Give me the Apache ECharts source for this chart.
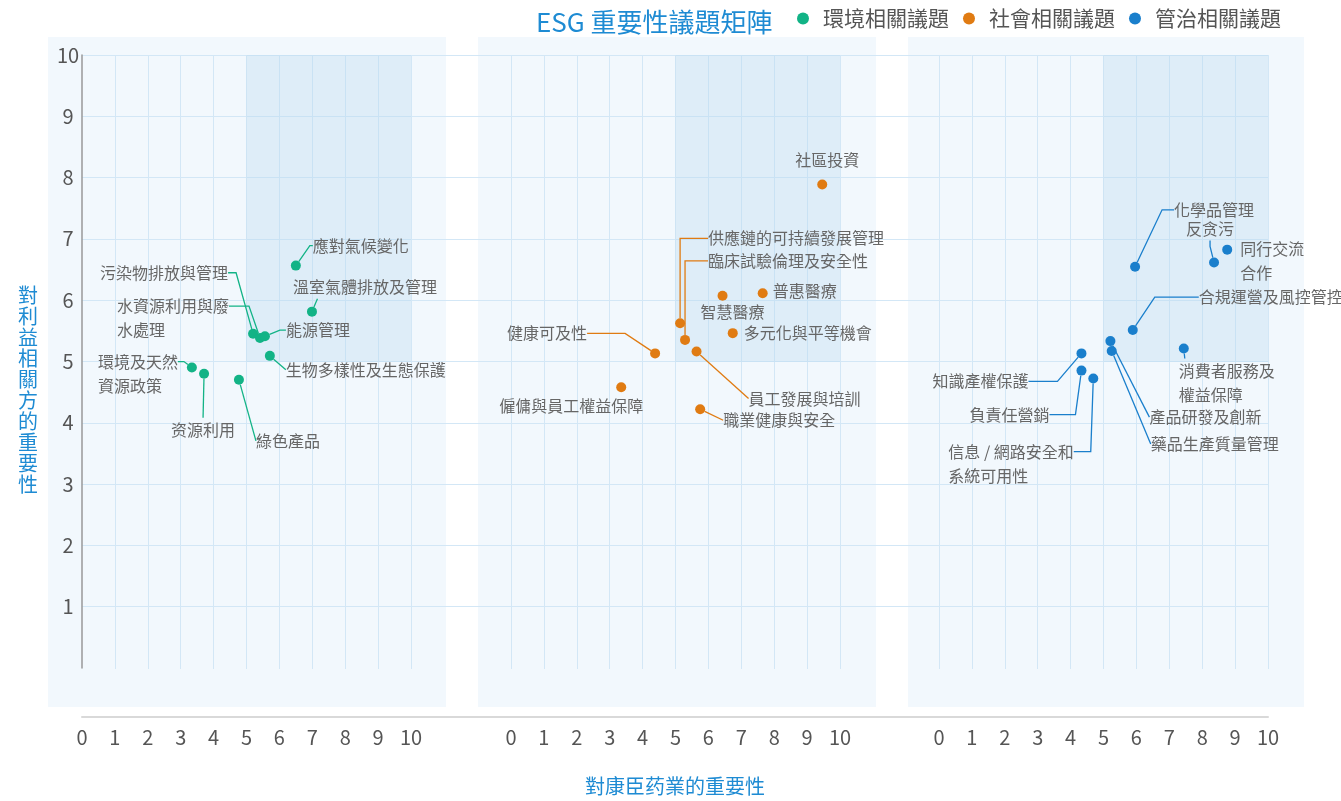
<!DOCTYPE html>
<html>
<head>
<meta charset="utf-8">
<title>ESG 重要性議題矩陣</title>
<script src="https://cdn.jsdelivr.net/npm/echarts@6/dist/echarts.min.js"></script>
<style>
  html, body { margin: 0; padding: 0; background: #fff; }
  #chart { width: 1341px; height: 801px; }
</style>
</head>
<body>
<div id="chart"></div>
<script>
// 環境相關議題
const envNames = ['應對氣候變化', '溫室氣體排放及管理', '污染物排放與管理', '水資源利用與廢\n水處理', '能源管理',
  '生物多樣性及生態保護', '環境及天然\n資源政策', '资源利用', '綠色產品'];
const envX = [6.5, 6.99, 5.2, 5.41, 5.56, 5.71, 3.34, 3.71, 4.77];
const envY = [6.57, 5.82, 5.46, 5.39, 5.42, 5.1, 4.91, 4.81, 4.71];

// 社會相關議題
const socNames = ['社區投資', '供應鏈的可持續發展管理', '臨床試驗倫理及安全性', '普惠醫療', '智慧醫療',
  '多元化與平等機會', '健康可及性', '員工發展與培訓', '僱傭與員工權益保障', '職業健康與安全'];
const socX = [9.46, 5.14, 5.29, 7.65, 6.43, 6.74, 4.38, 5.64, 3.35, 5.75];
const socY = [7.89, 5.63, 5.36, 6.12, 6.08, 5.47, 5.14, 5.17, 4.59, 4.23];

// 管治相關議題
const govNames = ['化學品管理', '反贪污', '同行交流\n合作', '合規運營及風控管控', '產品研發及創新',
  '藥品生產質量管理', '消費者服務及\n權益保障', '知識產權保護', '負責任營銷', '信息 / 網路安全和\n系統可用性'];
const govX = [5.96, 8.36, 8.76, 5.89, 5.21, 5.25, 7.44, 4.33, 4.33, 4.69];
const govY = [6.55, 6.62, 6.83, 5.52, 5.34, 5.18, 5.22, 5.14, 4.86, 4.73];

const seriesNames = ['環境相關議題', '社會相關議題', '管治相關議題'];
const colors = ['#12b386', '#e07b12', '#1a7fcc'];

// 重點區域（兩軸皆 5 到 10）
const focusFrom = [5, 5];
const focusTo = [10, 10];

// 標籤相對圓點的位置：[dx, dy, 水平對齊, 引線長度, 外框留白, 垂直對齊]
// 引線長度為 null 表示沒有引線；留白只用來挪動引線的接點
const labelPlace = {
  '應對氣候變化': [17, -20, 'left', 3],
  '溫室氣體排放及管理': [-114, -25, 'left', 0, [0, 0, 0, 95]],
  '污染物排放與管理': [-25, -61, 'right', 8],
  '水資源利用與廢\n水處理': [-143, -68, 'left', 20, [24, 0, 0, 0], 'top'],
  '能源管理': [21, -6, 'left', 6],
  '生物多樣性及生態保護': [16, 14, 'left', 0],
  '環境及天然\n資源政策': [-94, -42, 'left', 6, [24, 0, 0, 0], 'top'],
  '资源利用': [-1, 56, 'center', 0],
  '綠色產品': [17, 61, 'left', 0],

  '社區投資': [5, -25, 'center', null],
  '供應鏈的可持續發展管理': [28, -85, 'left', 28],
  '臨床試驗倫理及安全性': [23, -79, 'left', 23],
  '普惠醫療': [10, -2, 'left', null],
  '智慧醫療': [10, 16, 'center', null],
  '多元化與平等機會': [11, 0, 'left', null],
  '健康可及性': [-68, -20, 'right', 38],
  '員工發展與培訓': [52, 47, 'left', 0],
  '僱傭與員工權益保障': [-50, 19, 'center', null],
  '職業健康與安全': [23, 11, 'left', 0],

  '化學品管理': [39, -57, 'left', 12],
  '反贪污': [-4, -34, 'center', 6],
  '同行交流\n合作': [13, 11, 'left', null],
  '合規運營及風控管控': [66, -33, 'left', 44],
  '產品研發及創新': [39, 76, 'left', 0],
  '藥品生產質量管理': [39, 93, 'left', 0],
  '消費者服務及\n權益保障': [-89, 34, 'left', 0, [0, 0, 0, 84]],
  '知識產權保護': [-53, 28, 'right', 29],
  '負責任營銷': [-32, 44, 'right', 26],
  '信息 / 網路安全和\n系統可用性': [-145, 37, 'left', 17, [24, 0, 0, 0], 'top']
};

const panelLefts = [82, 511, 939];
const panelWidth = 329;
const panelBg = [[48, 398], [478, 398], [908, 396]];
const gridColor = '#d3e7f6';
const blue = '#1e8bd3';
const textFont = "'Noto Sans CJK TC', 'Noto Sans', sans-serif";

const makeSeries = (idx, names, xs, ys) => ({
  name: seriesNames[idx],
  type: 'scatter',
  xAxisIndex: idx + 1,
  yAxisIndex: idx + 1,
  symbolSize: 10,
  itemStyle: { color: colors[idx], opacity: 1 },
  label: {
    show: true,
    formatter: '{b}',
    color: '#666',
    fontSize: 16,
    lineHeight: 24
  },
  labelLine: { show: false, lineStyle: { width: 1.3 } },
  labelLayout: (p) => {
    const place = labelPlace[names[p.dataIndex]];
    const cx = p.rect.x + p.rect.width / 2;
    const cy = p.rect.y + p.rect.height / 2;
    return {
      x: cx + place[0],
      y: cy + place[1],
      align: place[2],
      verticalAlign: place[5] || 'middle'
    };
  },
  markArea: {
    silent: true,
    itemStyle: { color: 'rgba(180, 215, 240, 0.32)' },
    label: { show: false },
    data: [[{ coord: focusFrom }, { coord: focusTo }]]
  },
  data: names.map((n, i) => {
    const place = labelPlace[n];
    const item = { name: n, value: [xs[i], ys[i]] };
    if (place[3] !== null) {
      item.labelLine = { show: true, length2: place[3] };
    }
    if (place[4]) {
      item.label = { padding: place[4], backgroundColor: 'rgba(255,255,255,0)' };
    }
    return item;
  })
});

const chart = echarts.init(document.getElementById('chart'));

const grids = [{ left: 82, right: 73, top: 55, bottom: 132 }];
panelLefts.forEach((l) => grids.push({ left: l, width: panelWidth, top: 55, bottom: 132 }));
panelBg.forEach((b) => grids.push({
  left: b[0], width: b[1], top: 37, bottom: 94,
  show: true, backgroundColor: '#f2f8fd', borderWidth: 0, z: -1
}));

const xAxes = [{
  gridIndex: 0,
  type: 'value',
  min: 0,
  max: 10,
  offset: 49,
  axisLine: { show: true, onZero: false, lineStyle: { color: '#d9d9d9', width: 2 } },
  axisTick: { show: false },
  axisLabel: { show: false },
  splitLine: { show: false },
  name: '對康臣药業的重要性',
  nameLocation: 'middle',
  nameGap: 59,
  nameTextStyle: { color: blue, fontSize: 20 }
}];
[1, 2, 3].forEach((g) => xAxes.push({
  gridIndex: g,
  type: 'value',
  min: 0,
  max: 10,
  interval: 1,
  axisLine: { show: false },
  axisTick: { show: false },
  axisLabel: { color: '#555', fontSize: 20, margin: 58 },
  splitLine: { show: true, showMinLine: g !== 1, lineStyle: { color: gridColor } }
}));
[4, 5, 6].forEach((g) => xAxes.push({ gridIndex: g, type: 'value', show: false }));

const yAxes = [{
  gridIndex: 0,
  type: 'value',
  min: 0,
  max: 10,
  interval: 1,
  axisLine: { show: true, lineStyle: { color: '#999', width: 1.5 } },
  axisTick: { show: false },
  axisLabel: { showMinLabel: false, align: 'center', margin: 14, color: '#555', fontSize: 20 },
  splitLine: { show: true, showMinLine: false, lineStyle: { color: gridColor } }
}];
[1, 2, 3].forEach((g) => yAxes.push({ gridIndex: g, type: 'value', min: 0, max: 10, show: false }));
[4, 5, 6].forEach((g) => yAxes.push({ gridIndex: g, type: 'value', show: false }));

const option = {
  animation: false,
  textStyle: { fontFamily: textFont },
  title: [{
    text: 'ESG 重要性議題矩陣',
    left: 536,
    top: 9,
    padding: 0,
    textStyle: { color: blue, fontSize: 26, fontWeight: 'normal' }
  }, {
    // 縱軸名稱，直排
    text: '對利益相關方的重要性'.split('').join('\n'),
    left: 18,
    top: 285,
    padding: 0,
    textStyle: { color: blue, fontSize: 20, lineHeight: 21, fontWeight: 'normal' }
  }],
  legend: {
    data: seriesNames,
    left: 797,
    top: 8,
    padding: 0,
    icon: 'circle',
    itemWidth: 30,
    itemHeight: 12,
    itemGap: 14,
    textStyle: { color: '#555', fontSize: 21 }
  },
  grid: grids,
  xAxis: xAxes,
  yAxis: yAxes,
  series: [
    makeSeries(0, envNames, envX, envY),
    makeSeries(1, socNames, socX, socY),
    makeSeries(2, govNames, govX, govY)
  ]
};

chart.setOption(option);
</script>
</body>
</html>
